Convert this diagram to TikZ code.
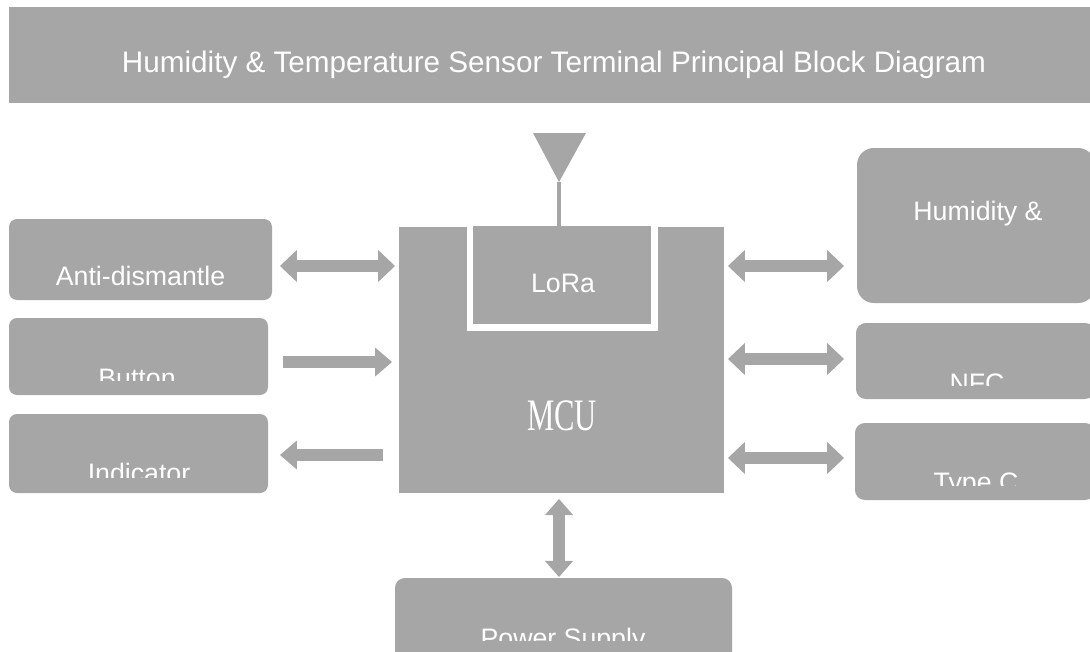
\documentclass[tikz,border=0pt]{standalone}
\usepackage{fontspec}
\setmainfont{Liberation Sans}
\newfontfamily\mcufont{Liberation Serif}
\usetikzlibrary{arrows.meta,positioning,fit}
\definecolor{boxgray}{RGB}{166,166,166}
\tikzset{
  blk/.style={fill=boxgray, draw=none, inner sep=0pt, outer sep=0pt},
  lbl/.style={text=white, inner sep=0pt, anchor=base, font=\fontsize{19}{22}\selectfont},
  conn/.style={draw=boxgray, line width=8.8pt},
}
\begin{document}
\begin{tikzpicture}[x=0.025cm,y=-0.025cm]
\useasboundingbox (0,0) rectangle (1090,651);
% title bar
\node[blk, fit={(9,7) (1095,103)}] (title) {};
\node[lbl, font=\fontsize{21.1}{24}\selectfont] (titletext) at (554,72) {Humidity \& Temperature Sensor Terminal Principal Block Diagram};
% left blocks
\node[blk, rounded corners=5.7pt, fit={(9,219) (272,300)}] (anti) {};
\node[blk, rounded corners=5.7pt, fit={(9,318) (268,395)}] (button) {};
\node[blk, rounded corners=5.7pt, fit={(9,414) (268,493)}] (indicator) {};
% right blocks
\node[blk, rounded corners=12pt, fit={(857,148) (1095,303)}] (humid) {};
\node[blk, rounded corners=7pt, fit={(856,323) (1095,399)}] (nfc) {};
\node[blk, rounded corners=7pt, fit={(855,423) (1095,500)}] (typec) {};
% bottom block
\node[blk, rounded corners=7pt, fit={(395,578) (732,670)}] (power) {};
% MCU and LoRa
\node[blk, fit={(399,227) (724,493)}] (mcu) {};
\node[fill=white, inner sep=0pt, fit={(467,226) (658,331)}] (loraframe) {};
\node[blk, fit={(473,226) (651,324)}] (lora) {};
% antenna
\coordinate (anttip) at (559,182);
\fill[boxgray] (533,133) -- (586,133) -- (anttip) -- cycle;
\draw[boxgray, line width=2.2pt] (anttip) -- (anttip |- lora.north);
% labels
\node[lbl] (antitext) at (140.5,285) {Anti-dismantle};
\node[lbl] (loratext) at (563,292) {LoRa};
\node[text=white, inner sep=0pt, anchor=base, font=\fontsize{32}{36}\mcufont] (mcutext) at (562,430) {\scalebox{0.68}[1]{MCU}};
\node[lbl] (humidtext) at (978,220) {Humidity \&};
\begin{scope}
\clip (0,0) rectangle (300,380);
\node[lbl] (buttontext) at (137,387) {Button};
\end{scope}
\begin{scope}
\clip (0,0) rectangle (300,477);
\node[lbl] (indtext) at (139,482) {Indicator};
\end{scope}
\begin{scope}
\clip (800,0) rectangle (1090,385);
\node[lbl] (nfctext) at (977,392) {NFC};
\end{scope}
\begin{scope}
\clip (800,0) rectangle (1090,485);
\node[lbl] (typectext) at (976,491) {Type C};
\end{scope}
\begin{scope}
\clip (380,560) rectangle (740,640);
\node[lbl] (powertext) at (563,647) {Power Supply};
\end{scope}
% connectors
\coordinate (a1) at (280,266); \coordinate (b1) at (395,266);
\coordinate (a2) at (283,362); \coordinate (b2) at (392,362);
\coordinate (a3) at (383,455); \coordinate (b3) at (280,455);
\coordinate (c1) at (728,266); \coordinate (d1) at (844,266);
\coordinate (c2) at (728,359); \coordinate (d2) at (844,359);
\coordinate (c3) at (728,458); \coordinate (d3) at (844,458);
\coordinate (e1) at (559,499); \coordinate (f1) at (559,577);
\draw[conn, {Triangle[width=22.8pt,length=12pt,line width=0pt]}-{Triangle[width=22.8pt,length=12pt,line width=0pt]}] (a1) -- (b1);
\draw[conn, -{Triangle[width=20.6pt,length=12pt,line width=0pt]}] (a2) -- (b2);
\draw[conn, -{Triangle[width=20.6pt,length=12pt,line width=0pt]}] (a3) -- (b3);
\draw[conn, {Triangle[width=22.8pt,length=12pt,line width=0pt]}-{Triangle[width=22.8pt,length=12pt,line width=0pt]}] (c1) -- (d1);
\draw[conn, {Triangle[width=22.8pt,length=12pt,line width=0pt]}-{Triangle[width=22.8pt,length=12pt,line width=0pt]}] (c2) -- (d2);
\draw[conn, {Triangle[width=22.8pt,length=12pt,line width=0pt]}-{Triangle[width=22.8pt,length=12pt,line width=0pt]}] (c3) -- (d3);
\draw[conn, {Triangle[width=20pt,length=11.4pt,line width=0pt]}-{Triangle[width=20pt,length=11.4pt,line width=0pt]}] (e1) -- (f1);
\end{tikzpicture}
\end{document}
